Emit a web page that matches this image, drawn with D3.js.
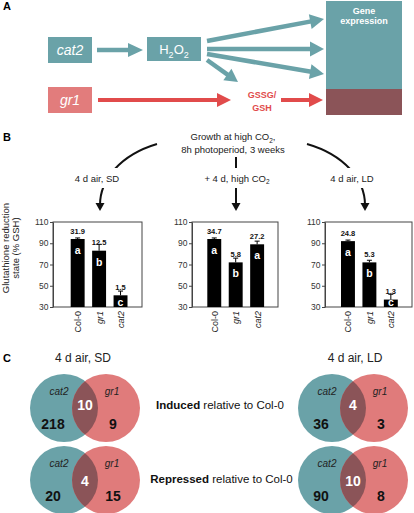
<!DOCTYPE html>
<html><head><meta charset="utf-8">
<script src="https://cdn.jsdelivr.net/npm/d3@7/dist/d3.min.js"></script>
<style>
html,body{margin:0;padding:0;background:#fff;}
svg{display:block;font-family:"Liberation Sans",Arial,sans-serif;}
</style></head>
<body>
<script>
// ---------- data ----------
const genotypes = ["Col-0", "gr1", "cat2"];
const conditions = ["4 d air, SD", "+ 4 d, high CO2", "4 d air, LD"];
const gshMeans = [[94, 83, 41], [94, 72, 89], [92, 72, 37]];
const gshErrors = [[1, 6, 4], [1, 4, 3], [1, 2, 5]];
const ratioLabels = [["31.9", "12.5", "1.5"], ["34.7", "5.8", "27.2"], ["24.8", "5.3", "1.3"]];
const letterLabels = [["a", "b", "c"], ["a", "b", "a"], ["a", "b", "c"]];
const yTicks = [30, 50, 70, 90, 110];
const vennTitles = ["4 d air, SD", "4 d air, LD"];
const inducedSD = [218, 10, 9];
const inducedLD = [36, 4, 3];
const repressedSD = [20, 4, 15];
const repressedLD = [90, 10, 8];

const TEAL = "#6aa2a8", PINK = "#e27c7c", RED = "#e14b4b", DARK = "#8b5458";
const W = 414, H = 513;
const svg = d3.select("body").append("svg").attr("width", W).attr("height", H);

function arrow(g, x1, y1, x2, y2, color, w, hl, hw) {
  const dx = x2 - x1, dy = y2 - y1, L = Math.hypot(dx, dy);
  const ux = dx / L, uy = dy / L, px = -uy, py = ux;
  const bx = x2 - ux * hl, by = y2 - uy * hl;
  g.append("line").attr("x1", x1).attr("y1", y1).attr("x2", bx + ux).attr("y2", by + uy)
    .attr("stroke", color).attr("stroke-width", w);
  g.append("polygon").attr("fill", color)
    .attr("points", [[x2, y2], [bx + px * hw, by + py * hw], [bx - px * hw, by - py * hw]].map(p => p.join(",")).join(" "));
}

// panel letters
[["A", 10], ["B", 141], ["C", 362]].forEach(([t, y]) =>
  svg.append("text").attr("x", 3).attr("y", y).attr("font-weight", "bold").attr("font-size", 11).text(t));

// ---------- Panel A ----------
const A = svg.append("g");
A.append("rect").attr("x", 48).attr("y", 37).attr("width", 44).attr("height", 26).attr("fill", TEAL);
A.append("text").attr("x", 70).attr("y", 55).attr("text-anchor", "middle").attr("fill", "#fff")
  .attr("font-size", 14).attr("font-style", "italic").text("cat2");
A.append("rect").attr("x", 147).attr("y", 37).attr("width", 54).attr("height", 24).attr("fill", TEAL);
const h2o2 = A.append("text").attr("x", 174).attr("y", 54).attr("text-anchor", "middle").attr("fill", "#fff").attr("font-size", 13);
h2o2.append("tspan").text("H");
h2o2.append("tspan").attr("font-size", 9).attr("dy", 4).text("2");
h2o2.append("tspan").attr("dy", -4).text("O");
h2o2.append("tspan").attr("font-size", 9).attr("dy", 4).text("2");
A.append("rect").attr("x", 48).attr("y", 87).attr("width", 44).attr("height", 26).attr("fill", PINK);
A.append("text").attr("x", 70).attr("y", 105).attr("text-anchor", "middle").attr("fill", "#fff")
  .attr("font-size", 14).attr("font-style", "italic").text("gr1");
A.append("rect").attr("x", 326).attr("y", 1).attr("width", 76).attr("height", 88).attr("fill", TEAL);
A.append("rect").attr("x", 326).attr("y", 89).attr("width", 76).attr("height", 26).attr("fill", DARK);
A.append("text").attr("x", 364).attr("y", 14).attr("text-anchor", "middle").attr("fill", "#fff")
  .attr("font-size", 9).attr("font-weight", "bold").text("Gene");
A.append("text").attr("x", 364).attr("y", 24).attr("text-anchor", "middle").attr("fill", "#fff")
  .attr("font-size", 9).attr("font-weight", "bold").text("expression");
A.append("text").attr("x", 262).attr("y", 98).attr("text-anchor", "middle").attr("fill", RED)
  .attr("font-size", 9).attr("font-weight", "bold").text("GSSG/");
A.append("text").attr("x", 262).attr("y", 111).attr("text-anchor", "middle").attr("fill", RED)
  .attr("font-size", 9).attr("font-weight", "bold").text("GSH");
arrow(A, 97, 50, 143, 50, TEAL, 4.5, 15, 7);
arrow(A, 207, 41, 324, 19, TEAL, 4.5, 14, 7.5);
arrow(A, 207, 49, 324, 49, TEAL, 4.5, 14, 7.5);
arrow(A, 207, 54, 324, 74, TEAL, 4.5, 14, 7.5);
arrow(A, 207, 60, 238, 82, TEAL, 4.5, 13, 7);
arrow(A, 98, 100, 231, 100, RED, 4, 14, 7);
arrow(A, 281, 100, 323, 100, RED, 4, 14, 7);

// ---------- Panel B header ----------
const B = svg.append("g");
const t1 = B.append("text").attr("x", 233).attr("y", 140).attr("text-anchor", "middle").attr("font-size", 9.5).attr("fill", "#222");
t1.append("tspan").text("Growth at high CO");
t1.append("tspan").attr("font-size", 6.5).attr("dy", 2.5).text("2");
t1.append("tspan").attr("dy", -2.5).text(",");
B.append("text").attr("x", 233).attr("y", 153).attr("text-anchor", "middle").attr("font-size", 9.5).attr("fill", "#222")
  .text("8h photoperiod, 3 weeks");

const arcPaths = ["M157,144 C120,155 100,180 100,205", "M236,157 L236,205", "M307,144 C345,155 365,180 365,205"];
const condX = [97, 237, 352];
arcPaths.forEach((d, i) => {
  B.append("path").attr("d", d).attr("fill", "none").attr("stroke", "#111").attr("stroke-width", 2);
  const tipX = i === 0 ? 100 : i === 1 ? 236 : 365;
  B.append("polygon").attr("fill", "#111").attr("points", `${tipX - 4.5},203 ${tipX + 4.5},203 ${tipX},211`);
});
conditions.forEach((c, i) => {
  const bw = i === 1 ? 86 : 54;
  B.append("rect").attr("x", condX[i] - bw / 2).attr("y", 168).attr("width", bw).attr("height", 20).attr("fill", "#fff");
  const t = B.append("text").attr("x", condX[i]).attr("y", 181.5).attr("text-anchor", "middle").attr("font-size", 9.5).attr("fill", "#222");
  if (c.endsWith("CO2")) {
    t.append("tspan").text(c.slice(0, -1));
    t.append("tspan").attr("font-size", 6.5).attr("dy", 2.5).text("2");
  } else t.text(c);
});

// ---------- Panel B charts ----------
const boxes = [[53, 142, 70.7], [192, 278, 207.3], [325, 412, 341]];
const y = d3.scaleLinear().domain([30, 110]).range([307, 222]);
boxes.forEach(([L, R, b0], ci) => {
  const g = B.append("g");
  const x = d3.scaleBand().domain(genotypes).range([b0, b0 + 56.8]).paddingInner(0.35).paddingOuter(0);
  g.append("rect").attr("x", L).attr("y", y(110)).attr("width", R - L).attr("height", y(30) - y(110))
    .attr("fill", "none").attr("stroke", "#444").attr("stroke-width", 1);
  const ax = g.append("g").attr("transform", `translate(${L},0)`)
    .call(d3.axisLeft(y).tickValues(yTicks).tickSize(3).tickSizeOuter(0));
  ax.select(".domain").attr("stroke", "#444");
  ax.selectAll(".tick line").attr("stroke", "#444");
  ax.selectAll(".tick text").attr("font-size", 8.5).attr("fill", "#333").attr("x", -4.5)
    .attr("font-family", "Liberation Sans, Arial, sans-serif");
  genotypes.forEach((gt, i) => {
    const m = gshMeans[ci][i], e = gshErrors[ci][i];
    const cx = x(gt) + x.bandwidth() / 2;
    g.append("rect").attr("x", x(gt)).attr("y", y(m)).attr("width", x.bandwidth()).attr("height", y(30) - y(m)).attr("fill", "#000");
    g.append("line").attr("x1", cx).attr("x2", cx).attr("y1", y(m)).attr("y2", y(m + e)).attr("stroke", "#000").attr("stroke-width", 1);
    g.append("line").attr("x1", cx - 2.5).attr("x2", cx + 2.5).attr("y1", y(m + e)).attr("y2", y(m + e)).attr("stroke", "#000").attr("stroke-width", 1);
    g.append("text").attr("x", cx).attr("y", y(m) - 5.5).attr("text-anchor", "middle").attr("font-size", 7.5)
      .attr("font-weight", "bold").attr("fill", "#111").text(ratioLabels[ci][i]);
    g.append("text").attr("x", cx).attr("y", Math.min(y(m) + 15, y(30) - 1)).attr("text-anchor", "middle").attr("font-size", 10.5)
      .attr("font-weight", "bold").attr("fill", "#fff").text(letterLabels[ci][i]);
    g.append("text").attr("transform", `translate(${cx + 3.5},311) rotate(-90)`).attr("text-anchor", "end")
      .attr("font-size", 9).attr("fill", "#222").attr("font-style", i > 0 ? "italic" : "normal").text(gt);
  });
});
B.append("text").attr("transform", "translate(8.5,248) rotate(-90)").attr("text-anchor", "middle").attr("font-size", 9.5).attr("fill", "#222").text("Glutathione reduction");
B.append("text").attr("transform", "translate(18.5,248) rotate(-90)").attr("text-anchor", "middle").attr("font-size", 9.5).attr("fill", "#222").text("state (% GSH)");

// ---------- Panel C ----------
const C = svg.append("g");
const defs = svg.append("defs");
vennTitles.forEach((t, i) =>
  C.append("text").attr("x", i === 0 ? 83 : 355).attr("y", 362).attr("text-anchor", "middle").attr("font-size", 12).attr("fill", "#222").text(t));
const vennSets = [[inducedSD, 64, 408], [inducedLD, 332, 408], [repressedSD, 64, 480], [repressedLD, 332, 480]];
const R0 = 34, dC = 42;
vennSets.forEach(([vals, cx, cy], k) => {
  const g = C.append("g");
  const id = "clipRed" + k;
  defs.append("clipPath").attr("id", id).append("circle").attr("cx", cx + dC).attr("cy", cy).attr("r", R0);
  g.append("circle").attr("cx", cx).attr("cy", cy).attr("r", R0).attr("fill", TEAL);
  g.append("circle").attr("cx", cx + dC).attr("cy", cy).attr("r", R0).attr("fill", "#e07b7b");
  g.append("circle").attr("cx", cx).attr("cy", cy).attr("r", R0).attr("fill", DARK).attr("clip-path", `url(#${id})`);
  g.append("text").attr("x", cx - 5).attr("y", cy - 13.5).attr("text-anchor", "middle").attr("font-size", 10).attr("font-style", "italic").attr("fill", "#222").text("cat2");
  g.append("text").attr("x", cx + dC + 6).attr("y", cy - 13.5).attr("text-anchor", "middle").attr("font-size", 10).attr("font-style", "italic").attr("fill", "#222").text("gr1");
  g.append("text").attr("x", cx + dC / 2).attr("y", cy + 1.5 + (k >= 2 ? 4.5 : 0)).attr("text-anchor", "middle").attr("font-size", 14).attr("font-weight", "bold").attr("fill", "#fff").text(vals[1]);
  g.append("text").attr("x", cx - 11).attr("y", cy + 21).attr("text-anchor", "middle").attr("font-size", 14).attr("font-weight", "bold").attr("fill", "#111").text(vals[0]);
  g.append("text").attr("x", cx + dC + 7).attr("y", cy + 21).attr("text-anchor", "middle").attr("font-size", 14).attr("font-weight", "bold").attr("fill", "#111").text(vals[2]);
});
[["Induced", 220, 409], ["Repressed", 221.5, 483]].forEach(([w, x, yy]) => {
  const t = C.append("text").attr("x", x).attr("y", yy).attr("text-anchor", "middle").attr("font-size", 11.5).attr("fill", "#111");
  t.append("tspan").attr("font-weight", "bold").text(w);
  t.append("tspan").text(" relative to Col-0");
});
</script>
</body></html>
